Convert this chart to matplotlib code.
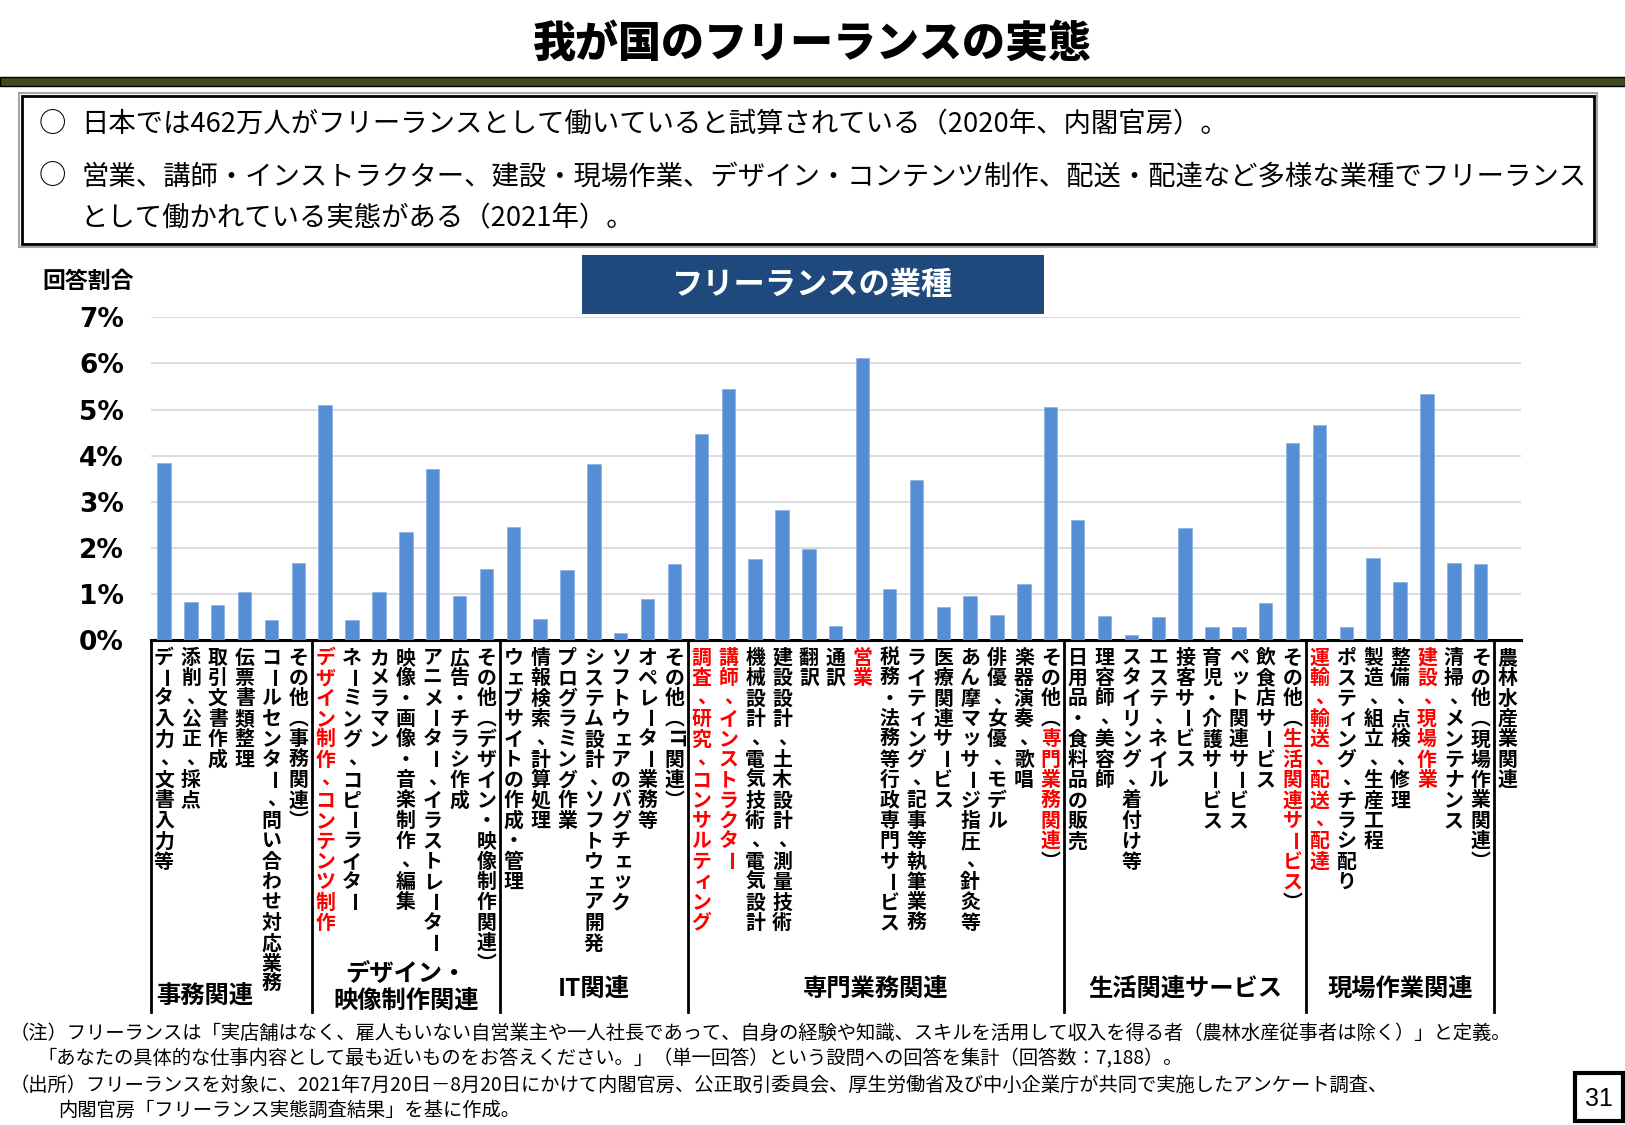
# Freelance occupations in Japan - bar chart with vertical (tategaki) category labels

import matplotlib
matplotlib.use('Agg')
import numpy as np
import matplotlib.pyplot as plt
from matplotlib.patches import Rectangle
from matplotlib.lines import Line2D
from matplotlib.transforms import blended_transform_factory

plt.rcParams['font.family'] = ['Noto Sans CJK JP', 'DejaVu Sans']

W, H = 1625, 1125

categories = [
    'データ入力、文書入力等', '添削、公正、採点', '取引文書作成', '伝票書類整理',
    'コールセンター、問い合わせ対応業務', 'その他（事務関連）',
    'デザイン制作、コンテンツ制作', 'ネーミング、コピーライター', 'カメラマン',
    '映像・画像・音楽制作、編集', 'アニメーター、イラストレーター', '広告・チラシ作成',
    'その他（デザイン・映像制作関連）',
    'ウェブサイトの作成・管理', '情報検索、計算処理', 'プログラミング作業',
    'システム設計、ソフトウェア開発', 'ソフトウェアのバグチェック', 'オペレーター業務等',
    'その他（IT関連）',
    '調査、研究、コンサルティング', '講師、インストラクター', '機械設計、電気技術、電気設計',
    '建設設計、土木設計、測量技術', '翻訳', '通訳', '営業', '税務・法務等行政専門サービス',
    'ライティング、記事等執筆業務', '医療関連サービス', 'あん摩マッサージ指圧、針灸等',
    '俳優、女優、モデル', '楽器演奏、歌唱', 'その他（専門業務関連）',
    '日用品・食料品の販売', '理容師、美容師', 'スタイリング、着付け等', 'エステ、ネイル',
    '接客サービス', '育児・介護サービス', 'ペット関連サービス', '飲食店サービス',
    'その他（生活関連サービス）',
    '運輸、輸送、配送、配達', 'ポスティング、チラシ配り', '製造、組立、生産工程',
    '整備、点検、修理', '建設、現場作業', '清掃、メンテナンス', 'その他（現場作業関連）',
    '農林水産業関連',
]

shares = [
    3.85, 0.83, 0.76, 1.05, 0.43, 1.68,
    5.09, 0.43, 1.05, 2.34, 3.70, 0.96, 1.55,
    2.46, 0.46, 1.52, 3.82, 0.15, 0.89, 1.64,
    4.46, 5.45, 1.76, 2.83, 1.98, 0.30, 6.12, 1.11, 3.46, 0.72, 0.95, 0.54, 1.21, 5.05,
    2.60, 0.52, 0.10, 0.49, 2.43, 0.28, 0.28, 0.80, 4.27,
    4.66, 0.28, 1.77, 1.26, 5.33, 1.67, 1.64,
    0.0,
]

# parts of labels printed in red
highlights = {
    'デザイン制作、コンテンツ制作': 'デザイン制作、コンテンツ制作',
    '調査、研究、コンサルティング': '調査、研究、コンサルティング',
    '講師、インストラクター': '講師、インストラクター',
    '営業': '営業',
    'その他（専門業務関連）': '専門業務関連',
    'その他（生活関連サービス）': '生活関連サービス',
    '運輸、輸送、配送、配達': '運輸、輸送、配送、配達',
    '建設、現場作業': '建設、現場作業',
}

groups = ['事務関連', 'デザイン・\n映像制作関連', 'IT関連', '専門業務関連',
          '生活関連サービス', '現場作業関連']
group_sizes = [6, 7, 7, 14, 9, 7]

yticks = [0, 1, 2, 3, 4, 5, 6, 7]

notes = [
    '（注）フリーランスは「実店舗はなく、雇人もいない自営業主や一人社長であって、自身の経験や知識、スキルを活用して収入を得る者（農林水産従事者は除く）」と定義。',
    '「あなたの具体的な仕事内容として最も近いものをお答えください。」（単一回答）という設問への回答を集計（回答数：7,188）。',
    '（出所）フリーランスを対象に、2021年7月20日－8月20日にかけて内閣官房、公正取引委員会、厚生労働省及び中小企業庁が共同で実施したアンケート調査、',
    '内閣官房「フリーランス実態調査結果」を基に作成。',
]

RED = '#FF0000'
BAR = '#558ED5'

fig = plt.figure(figsize=(W / 100, H / 100), dpi=100)

# chart axes, placed in pixel terms
ax_l, ax_r, ax_t, ax_b = 150.5, 1521, 317.3, 640
ax = fig.add_axes([ax_l / W, (H - ax_b) / H, (ax_r - ax_l) / W, (ax_b - ax_t) / H])
x = np.arange(len(categories))
ax.bar(x, shares, width=0.5, color=BAR, edgecolor='#8DB4E2', linewidth=0.6, zorder=3)
ax.set_xlim(-0.5, len(categories) - 0.5)
ax.set_ylim(0, 7)
ax.set_yticks(yticks)
ax.set_yticklabels([f'{v}%' for v in yticks], fontfamily='DejaVu Sans',
                   fontweight='bold', fontsize=19)
ax.tick_params(axis='y', length=0, pad=19)
ax.set_xticks([])
ax.yaxis.grid(True, color='#D9D9D9', linewidth=1.3, zorder=0)
for s in ['top', 'left', 'right']:
    ax.spines[s].set_visible(False)
ax.spines['bottom'].set_linewidth(2.2)
ax.spines['bottom'].set_color('black')
ax.set_axisbelow(True)

# overlay in pixel coordinates (y downwards)
over = fig.add_axes([0, 0, 1, 1])
over.set_xlim(0, W)
over.set_ylim(H, 0)
over.axis('off')
over.patch.set_visible(False)

blend = blended_transform_factory(ax.transData, over.transData)
px_per_cat = (ax_r - ax_l) / len(categories)

# page title and band
over.text(812, 44, '我が国のフリーランスの実態', ha='center', va='center',
          fontsize=31, fontweight='black')
over.add_patch(Rectangle((0, 77), W, 9, facecolor='#3C4A1E', edgecolor='black', linewidth=1))

# summary box
over.add_patch(Rectangle((19, 93), 1578, 154, fill=False, edgecolor='#A6A6A6', linewidth=1.5))
over.add_patch(Rectangle((22, 96), 1572, 148, fill=False, edgecolor='black', linewidth=2))
tsize = 19.7
over.text(39, 125, '○', ha='left', va='center', fontsize=tsize)
over.text(81, 125, '日本では462万人がフリーランスとして働いていると試算されている（2020年、内閣官房）。',
          ha='left', va='center', fontsize=tsize)
over.text(39, 177, '○', ha='left', va='center', fontsize=tsize)
over.text(81, 177, '営業、講師・インストラクター、建設・現場作業、デザイン・コンテンツ制作、配送・配達など多様な業種でフリーランス',
          ha='left', va='center', fontsize=tsize)
over.text(81, 219, 'として働かれている実態がある（2021年）。', ha='left', va='center', fontsize=tsize)

# chart title and y label
over.add_patch(Rectangle((582, 255), 462, 59, facecolor='#1F497D', edgecolor='none'))
over.text(813, 285, 'フリーランスの業種', ha='center', va='center', color='white',
          fontsize=22.5, fontweight='bold')
over.text(42, 281, '回答割合', ha='left', va='center', fontsize=16.5, fontweight='bold')

# vertical category labels, one character per cell
LABEL_TOP = 647
STEP = 20.4
SMALL = set('ァィゥェォッャュョぁぃぅぇぉっゃゅょ')
VERT = {'（': '︵', '）': '︶'}


def vertical_label(xd, label, red):
    r0 = label.find(red) if red else -1
    r1 = r0 + len(red) if red else -1
    i, row = 0, 0
    while i < len(label):
        ch, n = label[i], 1
        if label[i:i + 2] == 'IT':
            ch, n = 'IT', 2
        color = RED if r0 <= i < r1 else 'black'
        dx, dy, rot = 0.0, 0.0, 0
        if ch in ('ー', 'IT'):
            rot = -90
        if ch in ('、', '。'):
            dx, dy = 0.28 * STEP, -0.05 * STEP
        elif ch in SMALL:
            dx, dy = 0.1 * STEP, -0.05 * STEP
        yc = LABEL_TOP + STEP * (row + 0.5) + dy
        over.text(xd + dx / px_per_cat, yc, VERT.get(ch, ch), transform=blend,
                  ha='center', va='center', rotation=rot, fontsize=14.3,
                  fontweight='bold', color=color)
        i += n
        row += 1


for k, lab in enumerate(categories):
    vertical_label(k, lab, highlights.get(lab))

# group separators and group names
bounds = np.concatenate([[0], np.cumsum(group_sizes)])
for b in bounds:
    over.add_line(Line2D([b - 0.5, b - 0.5], [641, 1012], transform=blend,
                         color='black', linewidth=2))
for g, name in enumerate(groups):
    cx = (bounds[g] + bounds[g + 1] - 1) / 2
    cy = 989
    if g == 0:
        cx -= 1.0
        cy = 996
    if '\n' in name:
        cy = 987
    over.text(cx, cy, name, transform=blend, ha='center', va='center', fontsize=17.5,
              fontweight='bold', linespacing=1.15)

# footnotes
fsize = 13.9
note_x = [10, 37, 10, 58]
note_y = [1033, 1059, 1085, 1110]
for nx, ny, txt in zip(note_x, note_y, notes):
    over.text(nx, ny, txt, ha='left', va='center', fontsize=fsize)

# page number
over.add_patch(Rectangle((1575, 1073), 48, 48, facecolor='white', edgecolor='black', linewidth=3))
over.text(1599, 1099, '31', ha='center', va='center', fontsize=18,
          fontfamily=['Liberation Sans Narrow', 'Liberation Sans', 'DejaVu Sans'])

fig.savefig('out.png', dpi=100)
